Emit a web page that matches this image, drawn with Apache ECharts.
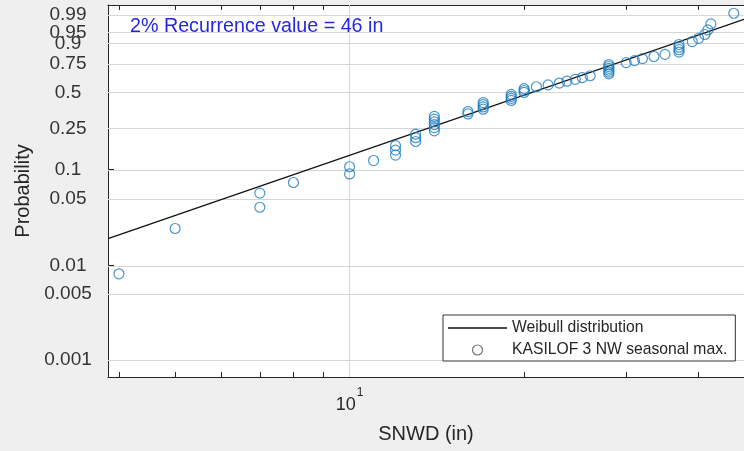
<!DOCTYPE html>
<html><head><meta charset="utf-8">
<script src="https://cdn.jsdelivr.net/npm/echarts@6/dist/echarts.min.js"></script>
<style>html,body{margin:0;padding:0;background:#efefef}#c{width:744px;height:451px}</style>
</head><body><div id="c"></div>
<script>
// Observed seasonal maxima of snow depth (in), sorted
const snwd = [4,5,7,7,8,10,10,11,12,12,12,13,13,13,14,14,14,14,14,14,16,16,17,17,17,17,19,19,19,19,20,20,20,21,22,23,23.7,24.5,25.2,26,28,28,28,28,28,28,30,31,32,33.5,35,37,37,37,37,39,40,41,41.5,42,46];
const prob = [0.0082,0.0246,0.0410,0.0574,0.0738,0.0902,0.1066,0.1230,0.1393,0.1557,0.1721,0.1885,0.2049,0.2213,0.2377,0.2541,0.2705,0.2869,0.3033,0.3197,0.3361,0.3525,0.3689,0.3852,0.4016,0.4180,0.4344,0.4508,0.4672,0.4836,0.5000,0.5164,0.5328,0.5492,0.5656,0.5820,0.5984,0.6148,0.6311,0.6475,0.6639,0.6803,0.6967,0.7131,0.7295,0.7459,0.7623,0.7787,0.7951,0.8115,0.8279,0.8443,0.8607,0.8770,0.8934,0.9098,0.9262,0.9426,0.9590,0.9754,0.9918];
// Fitted Weibull line end points
const fitSnwd = [3.83, 47.9];
const fitProb = [0.0193, 0.984];
// Axes
const probTicks = [0.001,0.005,0.01,0.05,0.1,0.25,0.5,0.75,0.9,0.95,0.99];
const probTickLabels = ['0.001','0.005','0.01','0.05','0.1','0.25','0.5','0.75','0.9','0.95','0.99'];
const snwdTicks = [4,5,6,7,8,9,10,20,30,40];
const snwdLabelTicks = [10];
const snwdRange = [3.83, 47.9];
const probRange = [0.00066, 0.9972];
const titleText = '2% Recurrence value = 46 in';

const lx = v => Math.log10(v);
const wp = p => Math.log10(-Math.log(1 - p));
const FONT = '"Liberation Sans", Arial, sans-serif';
const AX = '#262626';

const yTickVals = probTicks.map(wp);
// label order arranged so that the crowded 0.95 label is not an end label
const labelOrder = [0,1,2,3,9,4,5,6,7,8,10];
const yLabelVals = labelOrder.map(i => yTickVals[i]);
function yLabel(v){
  for (let i = 0; i < yTickVals.length; i++) if (Math.abs(yTickVals[i] - v) < 1e-6) return probTickLabels[i];
  return '';
}

const chart = echarts.init(document.getElementById('c'), null, {renderer:'canvas'});
chart.setOption({
  animation:false,
  backgroundColor:'#efefef',
  title:{text:titleText, left:130, top:17, padding:0,
    textStyle:{fontSize:19.7, fontWeight:'normal', color:'#2626e6', fontFamily:FONT}},
  grid:{left:108, top:5, width:642, height:372, show:true, backgroundColor:'#ffffff', borderWidth:0},
  legend:{orient:'vertical', left:443, top:315, padding:[5,8,3,5], itemGap:6, itemWidth:59, itemHeight:10,
    borderColor:'#333', borderWidth:1, backgroundColor:'#ffffff', borderRadius:0,
    textStyle:{fontSize:15.7, color:AX, fontFamily:FONT},
    data:[{name:'Weibull distribution', icon:'path://M0,0H100V2.4H0Z', itemStyle:{color:'#111'}},
      {name:'KASILOF 3 NW seasonal max.', icon:'circle', itemStyle:{color:'rgba(0,0,0,0)', borderColor:'#555', borderWidth:1.2}}]},
  xAxis:[
    {type:'value', position:'bottom', min:lx(snwdRange[0]), max:lx(snwdRange[1]),
     axisLine:{show:true, onZero:false, lineStyle:{color:AX, width:1}},
     axisTick:{show:true, inside:true, length:5, customValues:snwdTicks.map(lx), lineStyle:{color:AX}},
     axisLabel:{customValues:snwdLabelTicks.map(lx), margin:10, hideOverlap:false,
       formatter:v => '{b|10}{s|' + Math.round(v) + '}',
       rich:{b:{fontSize:18, color:AX, fontFamily:FONT, padding:[9,0,0,0]},
             s:{fontSize:12, color:AX, fontFamily:FONT, verticalAlign:'top', padding:[0,0,0,1]}}},
     splitLine:{show:false},
     name:'SNWD (in)', nameLocation:'middle', nameGap:47,
     nameTextStyle:{fontSize:20, color:AX, fontFamily:FONT}},
    {type:'value', position:'top', min:lx(snwdRange[0]), max:lx(snwdRange[1]),
     axisLine:{show:true, onZero:false, lineStyle:{color:AX, width:1}},
     axisTick:{show:true, inside:true, length:5, customValues:snwdTicks.map(lx), lineStyle:{color:AX}},
     axisLabel:{show:false}, splitLine:{show:false}}
  ],
  yAxis:{type:'value', min:wp(probRange[0]), max:wp(probRange[1]),
     axisLine:{show:true, onZero:false, lineStyle:{color:AX, width:1}},
     axisTick:{show:true, inside:true, length:6, customValues:yTickVals, lineStyle:{color:AX}},
     axisLabel:{customValues:yLabelVals, formatter:yLabel, align:'center', margin:40, hideOverlap:false,
       fontSize:19, color:'#333', fontFamily:FONT},
     splitLine:{show:false},
     name:'Probability', nameLocation:'middle', nameGap:72, nameRotate:90,
     nameTextStyle:{fontSize:20, color:AX, fontFamily:FONT}},
  series:[
    {type:'line', data:[], silent:true, z:1, xAxisIndex:0,
     markLine:{silent:true, z:1, symbol:'none', label:{show:false}, animation:false,
       lineStyle:{color:'#d6d6d6', width:1, type:'solid'},
       data:[...yTickVals.map(v => ({yAxis:v})), {xAxis:lx(10)}]}},
    {name:'Weibull distribution', type:'line', xAxisIndex:0, z:3, symbol:'none',
     data:fitSnwd.map((x,i) => [lx(x), wp(fitProb[i])]),
     itemStyle:{color:'#111'}, lineStyle:{color:'#111', width:1.3}},
    {name:'KASILOF 3 NW seasonal max.', type:'scatter', xAxisIndex:0, z:4,
     symbol:'circle', symbolSize:10,
     data:snwd.map((x,i) => [lx(x), wp(prob[i])]),
     itemStyle:{color:'rgba(0,0,0,0)', borderColor:'#1b7cc2', borderWidth:1.2}}
  ]
});
</script></body></html>
